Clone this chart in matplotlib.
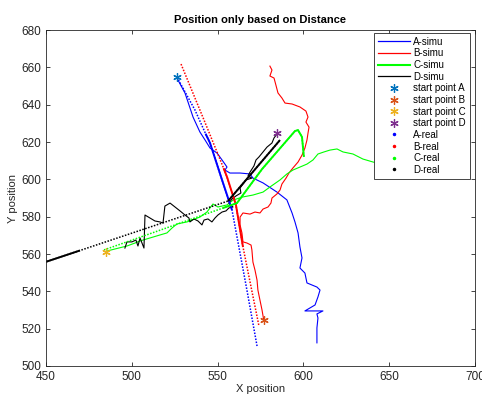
import matplotlib
matplotlib.use("Agg")
import matplotlib.pyplot as plt
from matplotlib.lines import Line2D

plt.rcParams['font.family'] = ['Liberation Sans', 'DejaVu Sans']

# simulated paths (wiggly lines)
a_simu_x = [526.3, 531.0, 535.7, 539.7, 542.7, 545.6, 549.7, 552.6, 555.5, 554.3, 557.2, 563.1, 568.9,
            570.6, 576.5, 584.6, 590.4, 593.4, 595.1, 596.9, 598.0, 599.2, 598.0, 600.9, 602.1, 607.9,
            609.7, 608.5, 606.8, 600.9, 611.4, 607.9, 608.5, 607.9, 607.9, 607.9]
a_simu_y = [654.3, 646.3, 633.4, 625.4, 621.1, 616.8, 614.1, 610.4, 606.6, 605.0, 603.4, 603.4, 602.9,
            600.7, 598.1, 593.2, 589.0, 582.0, 577.2, 571.3, 563.8, 557.9, 552.5, 549.8, 544.5, 542.3,
            540.7, 537.0, 532.7, 529.5, 529.5, 527.9, 525.7, 520.4, 516.6, 512.4]

b_simu_x = [577.0, 575.9, 574.7, 573.5, 573.0, 571.8, 570.6, 570.0, 569.5, 567.1, 564.8, 564.2, 563.1,
            563.1, 564.8, 568.9, 571.8, 574.7, 576.5, 579.4, 581.1, 581.7, 584.6, 586.4, 587.5, 589.9,
            591.6, 593.9, 596.9, 599.2, 600.9, 602.1, 602.7, 603.3, 601.5, 602.7, 601.5, 598.0, 593.4,
            589.3, 587.5, 585.2, 584.0, 582.9, 580.5, 581.7, 580.5]
b_simu_y = [524.1, 530.0, 535.3, 540.7, 546.0, 551.4, 555.7, 562.2, 564.8, 565.9, 566.5, 571.3, 575.6,
            579.8, 582.0, 581.4, 582.5, 582.0, 584.1, 585.2, 587.3, 590.0, 592.2, 594.3, 597.5, 600.7,
            603.4, 606.1, 609.3, 613.0, 616.8, 621.1, 624.8, 628.0, 630.7, 633.4, 636.6, 638.8, 640.4,
            640.9, 643.6, 646.3, 650.5, 654.3, 655.4, 658.6, 660.7]

c_simu_x = [485.5, 490.2, 497.2, 501.9, 504.8, 510.6, 516.4, 520.5, 523.4, 526.3, 532.2, 536.8, 539.7,
            543.8, 547.3, 550.2, 555.5, 559.0, 564.8, 570.6, 576.5, 580.5, 586.4, 590.4, 593.9, 598.0,
            602.1, 605.6, 608.5, 612.0, 615.5, 619.6, 623.1, 628.9, 634.7, 640.6, 647.6]
c_simu_y = [561.6, 562.7, 564.3, 565.9, 567.0, 568.6, 570.2, 571.3, 573.9, 576.1, 577.2, 578.8, 579.8,
            582.5, 586.8, 585.2, 586.3, 588.9, 590.6, 591.6, 593.2, 595.9, 599.7, 602.9, 605.0, 606.6,
            608.2, 610.4, 613.6, 614.7, 615.7, 616.3, 614.7, 613.6, 610.9, 609.3, 607.7]

d_simu_x = [584.6, 582.9, 581.7, 578.8, 576.5, 574.1, 572.4, 571.2, 568.9, 567.7, 570.0, 566.6, 564.8,
            563.1, 563.6, 560.7, 558.4, 556.6, 559.0, 556.6, 554.9, 552.6, 550.2, 548.5, 546.7, 544.4,
            542.1, 540.9, 538.6, 536.2, 533.9, 533.3, 531.0, 528.1, 525.2, 522.3, 519.3, 518.2, 516.4,
            513.5, 510.6, 507.7, 507.1, 504.8, 503.6, 502.4, 500.1, 497.2, 496.0]
d_simu_y = [624.3, 622.2, 619.5, 617.3, 614.7, 612.0, 610.4, 607.2, 603.9, 601.8, 600.7, 599.7, 597.5,
            595.4, 592.7, 591.1, 589.5, 587.3, 585.2, 584.7, 583.1, 582.5, 580.9, 579.3, 577.2, 578.8,
            578.2, 575.6, 577.7, 578.8, 577.2, 579.3, 580.9, 583.1, 585.2, 587.3, 585.7, 576.6, 577.2,
            577.7, 579.3, 580.9, 563.2, 568.6, 564.3, 567.5, 566.5, 566.5, 563.2]

# real paths (dots), with the stretch where the dots are packed
a_real_x = [526.3, 536.8, 543.0, 545.6, 552.6, 558.4, 567.1, 573.0]
a_real_y = [654.8, 637.2, 624.5, 619.5, 599.7, 583.6, 540.7, 510.7]
a_real_dense = (2, 6)
b_real_x = [528.7, 542.1, 553.5, 555.5, 560.7, 564.8, 574.1]
b_real_y = [661.8, 631.8, 606.0, 601.3, 586.3, 563.8, 521.5]
b_real_dense = (2, 6)
c_real_x = [483.8, 553.0, 561.3, 575.9, 595.1, 596.9, 599.2, 600.3]
c_real_y = [562.2, 584.6, 587.3, 605.5, 625.9, 626.4, 622.7, 612.0]
c_real_dense = (1, 8)
d_real_x = [447.0, 469.8, 556.1, 586.4]
d_real_y = [554.9, 561.9, 588.4, 621.1]
d_real_dense = [(0, 2), (2, 4)]

start_x = [526.3, 577.0, 485.0, 584.6]
start_y = [654.8, 524.7, 561.1, 624.8]
start_labels = ['start point A', 'start point B', 'start point C', 'start point D']
start_colors = ['#0072BD', '#D95319', '#EDB120', '#7E2F8E']

fig = plt.figure(figsize=(4.82, 3.96), dpi=100)
ax = fig.add_axes([0.0954, 0.0758, 0.89, 0.8482])

cols = ['#0000FF', '#FF0000', '#00FF00', 'k']
simu = [(a_simu_x, a_simu_y), (b_simu_x, b_simu_y), (c_simu_x, c_simu_y), (d_simu_x, d_simu_y)]
real = [(a_real_x, a_real_y, [a_real_dense]), (b_real_x, b_real_y, [b_real_dense]),
        (c_real_x, c_real_y, [c_real_dense]), (d_real_x, d_real_y, d_real_dense)]

for (x, y), c in zip(simu, cols):
    ax.plot(x, y, '-', color=c, lw=0.8)
for (x, y, dense), c in zip(real, cols):
    ax.plot(x, y, linestyle=(0, (1, 1)), color=c, lw=1.1)
    for i0, i1 in dense:
        ax.plot(x[i0:i1], y[i0:i1], '-', color=c, lw=1.4, solid_capstyle='butt')
for sx, sy, c in zip(start_x, start_y, start_colors):
    ax.plot(sx, sy, marker=(6, 2, 0), color=c, ms=6, mew=0.9, linestyle='none')

ax.set_xlim(450, 700)
ax.set_ylim(500, 680)
ax.set_xticks(range(450, 701, 50))
ax.set_yticks(range(500, 681, 20))
ax.tick_params(direction='in', length=3, width=0.6, labelsize=8.5, colors='#262626',
               top=True, right=True)
for s in ax.spines.values():
    s.set_linewidth(0.6)
    s.set_color('#262626')
ax.set_xlabel('X position', fontsize=8, labelpad=1, color='#262626')
ax.set_ylabel('Y position', fontsize=8, labelpad=2, color='#262626')
ax.set_title('Position only based on Distance', fontsize=8, fontweight='bold', pad=5)

handles = [Line2D([], [], color=cols[0], lw=0.9),
           Line2D([], [], color=cols[1], lw=0.9),
           Line2D([], [], color=cols[2], lw=1.5),
           Line2D([], [], color=cols[3], lw=0.9)]
handles += [Line2D([], [], marker=(6, 2, 0), color=c, ms=6, mew=0.9, linestyle='none')
            for c in start_colors]
handles += [Line2D([], [], marker='.', color=c, ms=3, linestyle='none') for c in cols]
labels = ['A-simu', 'B-simu', 'C-simu', 'D-simu'] + start_labels + ['A-real', 'B-real', 'C-real', 'D-real']
leg = ax.legend(handles, labels, loc='upper right', bbox_to_anchor=(0.988, 0.992), borderaxespad=0,
                fontsize=7, labelspacing=0.17, handlelength=3.3, handletextpad=0.3,
                fancybox=False, framealpha=1, borderpad=0.4)
leg.get_frame().set_edgecolor('#262626')
leg.get_frame().set_linewidth(0.6)

fig.savefig('out.png', dpi=100)
